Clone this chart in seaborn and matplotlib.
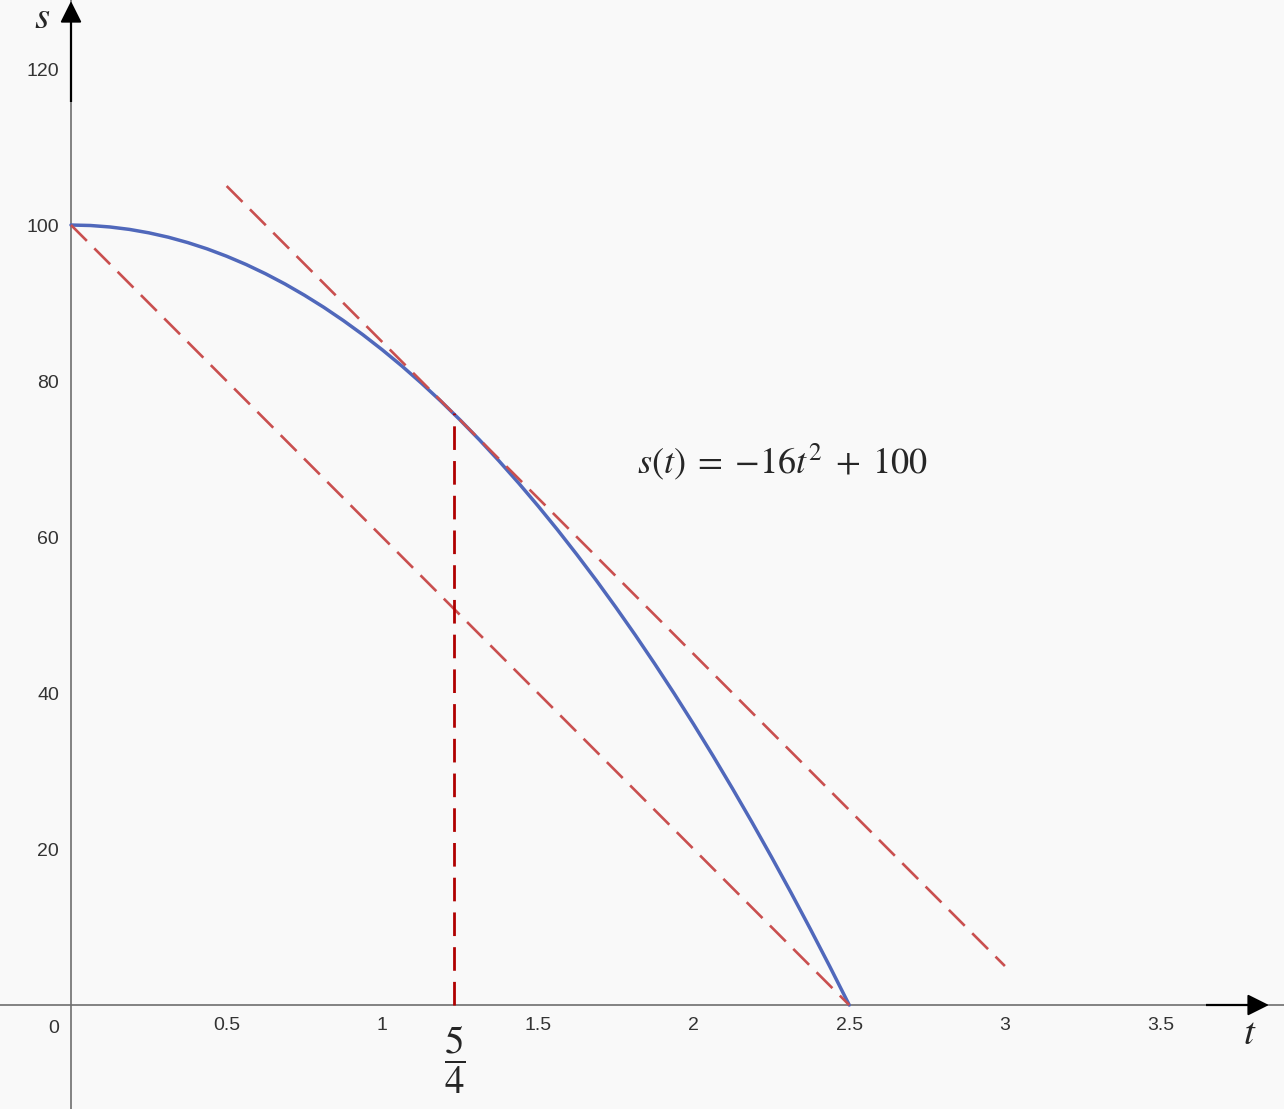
import numpy as np
import pandas as pd
import matplotlib
matplotlib.use("Agg")
import matplotlib.pyplot as plt
import seaborn as sns

# ---- data ----
curve_t = [0, 0.0625, 0.125, 0.1875, 0.25, 0.3125, 0.375, 0.4375, 0.5, 0.5625,
           0.625, 0.6875, 0.75, 0.8125, 0.875, 0.9375, 1.0, 1.0625, 1.125, 1.1875,
           1.25, 1.3125, 1.375, 1.4375, 1.5, 1.5625, 1.625, 1.6875, 1.75, 1.8125,
           1.875, 1.9375, 2.0, 2.0625, 2.125, 2.1875, 2.25, 2.3125, 2.375, 2.4375, 2.5]
curve_s = [100, 99.94, 99.75, 99.44, 99, 98.44, 97.75, 96.94, 96, 94.94,
           93.75, 92.44, 91, 89.44, 87.75, 85.94, 84, 81.94, 79.75, 77.44,
           75, 72.44, 69.75, 66.94, 64, 60.94, 57.75, 54.44, 51, 47.44,
           43.75, 39.94, 36, 31.94, 27.75, 23.44, 19, 14.44, 9.75, 4.94, 0]
tangent_t = [0.5, 3.0]
tangent_s = [105, 5]
secant_t = [0.0, 2.5]
secant_s = [100, 0]
vert_t = [1.23, 1.23]
vert_s = [0, 75.9]
xticks = [0.5, 1, 1.5, 2, 2.5, 3, 3.5]
xticklabels = ["0.5", "1", "1.5", "2", "2.5", "3", "3.5"]
yticks = [20, 40, 60, 80, 100, 120]
yticklabels = ["20", "40", "60", "80", "100", "120"]

sns.set_theme(style="white")
plt.rcParams["mathtext.fontset"] = "stix"
plt.rcParams["font.family"] = ["Liberation Sans", "DejaVu Sans"]

bg = "#f9f9f9"
fig = plt.figure(figsize=(12.84, 11.09), dpi=100, facecolor=bg)
ax = fig.add_axes([0, 0, 1, 1], facecolor=bg)
ax.set_xlim(-0.2281, 3.8966)
ax.set_ylim(-13.33, 128.85)

# axes as spines through zero
for side in ["top", "right"]:
    ax.spines[side].set_visible(False)
ax.spines["left"].set_position(("data", 0))
ax.spines["bottom"].set_position(("data", 0))
for side in ["left", "bottom"]:
    ax.spines[side].set_color("#6e6e6e")
    ax.spines[side].set_linewidth(1.2)
    ax.spines[side].set_zorder(1)

ax.set_xticks(xticks)
ax.set_xticklabels(xticklabels)
ax.set_yticks(yticks)
ax.set_yticklabels(yticklabels)
ax.tick_params(axis="both", direction="out", length=3.5, width=1.0,
               color="#555555", labelcolor="#333333", labelsize=14)
ax.tick_params(axis="x", pad=5)
ax.tick_params(axis="y", pad=5)
ax.text(-0.055, -1.9, "0", ha="center", va="top", fontsize=14, color="#333333")

# black arrow extensions of the axes
ax.plot([3.646, 3.80], [0, 0], color="black", lw=1.6, solid_capstyle="butt", zorder=2)
ax.annotate("", xy=(3.848, 0), xytext=(3.78, 0),
            arrowprops=dict(arrowstyle="-|>,head_length=1.1,head_width=0.55",
                            color="black", lw=1.4, shrinkA=0, shrinkB=0))
ax.plot([0, 0], [115.8, 126.8], color="black", lw=1.6, solid_capstyle="butt", zorder=2)
ax.annotate("", xy=(0, 128.7), xytext=(0, 124.5),
            arrowprops=dict(arrowstyle="-|>,head_length=1.1,head_width=0.55",
                            color="black", lw=1.4, shrinkA=0, shrinkB=0))

red = "#c94f4f"
dark_red = "#b00000"
blue = "#5068bb"

df_curve = pd.DataFrame({"t": curve_t, "s": curve_s})
sns.lineplot(data=df_curve, x="t", y="s", ax=ax, color=blue, lw=2.5,
             sort=False, zorder=4)

dash = (8.5, 4.0)
df_tan = pd.DataFrame({"t": tangent_t, "s": tangent_s})
sns.lineplot(data=df_tan, x="t", y="s", ax=ax, color=red, lw=1.9,
             zorder=5).lines[-1].set_dashes(dash)
df_sec = pd.DataFrame({"t": secant_t, "s": secant_s})
sns.lineplot(data=df_sec, x="t", y="s", ax=ax, color=red, lw=1.9,
             zorder=5).lines[-1].set_dashes(dash)
df_vert = pd.DataFrame({"t": vert_t, "s": vert_s})
sns.lineplot(data=df_vert, x="t", y="s", ax=ax, color=dark_red, lw=2.0,
             sort=False, orient="y", zorder=5).lines[-1].set_dashes(dash)

ax.set_xlabel("")
ax.set_ylabel("")

# annotations
ax.text(-0.093, 125.3, "$s$", ha="center", va="baseline", fontsize=28)
ax.text(3.787, -3.7, "$t$", ha="center", va="center", fontsize=28)
ax.text(1.818, 69.6, r"$s(t)\;=\;{-}16t^2\;+\;100$", ha="left", va="center", fontsize=26)
ax.text(1.233, -7.0, r"$\dfrac{5}{4}$", ha="center", va="center", fontsize=28)

fig.savefig("out.png", dpi=100, facecolor=bg)
